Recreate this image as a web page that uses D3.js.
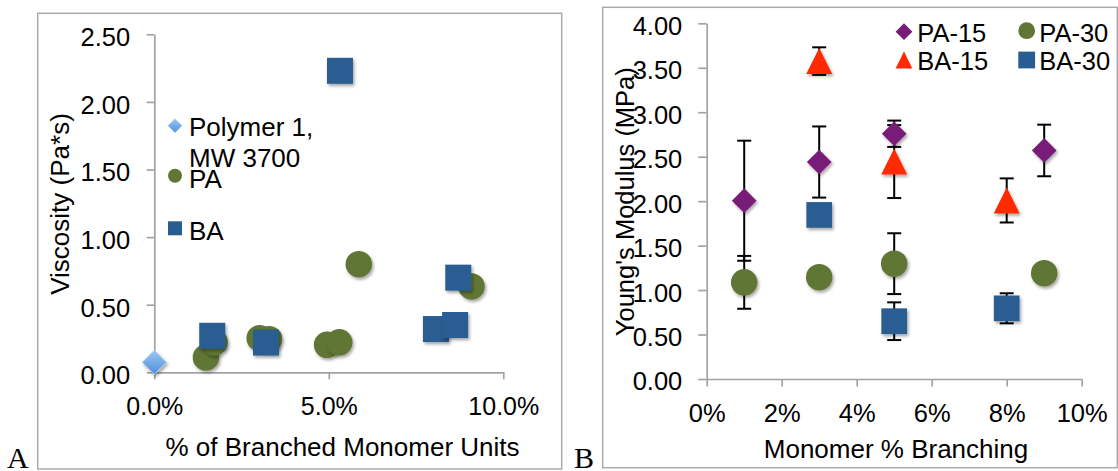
<!DOCTYPE html>
<html><head><meta charset="utf-8">
<script src="https://cdn.jsdelivr.net/npm/d3@7"></script>
<style>
html,body{margin:0;padding:0;background:#fff;}
svg{display:block;}
text{font-family:"Liberation Sans",Arial,Helvetica,sans-serif;fill:#000;}
</style></head><body><svg id="c" width="1118" height="471"></svg>
<script>
// ---------- Panel A data ----------
const aXTicks = [0, 5, 10];
const aXTickLabels = ["0.0%", "5.0%", "10.0%"];
const aYTicks = [0, 0.5, 1.0, 1.5, 2.0, 2.5];
const aYTickLabels = ["0.00", "0.50", "1.00", "1.50", "2.00", "2.50"];
const polymer1X = [0.0];
const polymer1Y = [0.074];
const paX = [1.48, 1.73, 3.02, 3.29, 4.95, 5.30, 5.86, 9.09];
const paY = [0.11, 0.222, 0.252, 0.245, 0.203, 0.222, 0.80, 0.635];
const baX = [1.66, 3.20, 5.32, 8.07, 8.62, 8.71];
const baY = [0.27, 0.22, 2.23, 0.32, 0.35, 0.70];
const aSeriesNames = ["Polymer 1,\nMW 3700", "PA", "BA"];

// ---------- Panel B data ----------
const bXTicks = [0, 2, 4, 6, 8, 10];
const bXTickLabels = ["0%", "2%", "4%", "6%", "8%", "10%"];
const bYTicks = [0, 0.5, 1.0, 1.5, 2.0, 2.5, 3.0, 3.5, 4.0];
const bYTickLabels = ["0.00", "0.50", "1.00", "1.50", "2.00", "2.50", "3.00", "3.50", "4.00"];
const pa15X = [1, 3, 5, 9];
const pa15Y = [2.005, 2.44, 2.758, 2.57];
const pa15Err = [0.675, 0.40, 0.148, 0.29];
const pa30X = [1, 3, 5, 9];
const pa30Y = [1.087, 1.145, 1.297, 1.19];
const pa30Err = [0.297, 0, 0.342, 0];
const ba15X = [3, 5, 8];
const ba15Y = [3.575, 2.445, 2.008];
const ba15Err = [0.155, 0.41, 0.248];
const ba30X = [3, 5, 8];
const ba30Y = [1.845, 0.65, 0.795];
const ba30Err = [0, 0.212, 0.169];
const bSeriesNames = ["PA-15", "PA-30", "BA-15", "BA-30"];

// ---------- styles ----------
const C = {
  blueLight: "#6aa6e4", green: "#617634", blue: "#295d91",
  purple: "#781c78", red: "#ff2a00", axis: "#a3a3a3", border: "#aaaaaa"
};

const svg = d3.select("#c");
const defs = svg.append("defs");
const f = defs.append("filter").attr("id", "sh").attr("x", "-50%").attr("y", "-50%").attr("width", "200%").attr("height", "200%");
f.append("feDropShadow").attr("dx", 1.5).attr("dy", 2.2).attr("stdDeviation", 1.6).attr("flood-color", "#000").attr("flood-opacity", 0.35);
const gr = defs.append("linearGradient").attr("id", "dg").attr("x1", 0).attr("y1", 0).attr("x2", 0).attr("y2", 1);
gr.append("stop").attr("offset", "0%").attr("stop-color", "#9cc8f4");
gr.append("stop").attr("offset", "100%").attr("stop-color", "#4f8fd8");

svg.append("rect").attr("width", 1118).attr("height", 471).attr("fill", "#fff");

function shapePath(type, s) {
  const h = s / 2;
  if (type === "diamond") return `M0,${-h}L${h},0L0,${h}L${-h},0Z`;
  if (type === "square") return `M${-h},${-h}H${h}V${h}H${-h}Z`;
  if (type === "triangle") return `M0,${-h}L${h},${h}L${-h},${h}Z`;
  return d3.symbol(d3.symbolCircle, Math.PI * h * h)();
}

function drawSeries(g, xs, ys, x, y, type, size, fill, stroke) {
  g.append("g").selectAll("path").data(xs.map((d, i) => [d, ys[i]])).join("path")
    .attr("d", shapePath(type, size))
    .attr("transform", d => `translate(${x(d[0])},${y(d[1])})`)
    .attr("fill", fill)
    .attr("stroke", stroke || "none")
    .attr("stroke-width", stroke ? 1 : 0)
    .attr("filter", "url(#sh)");
}

function drawErr(g, xs, ys, es, x, y) {
  const data = xs.map((d, i) => ({ x: d, y: ys[i], e: es[i] })).filter(d => d.e > 0);
  const eg = g.append("g").attr("stroke", "#000").attr("stroke-width", 2);
  data.forEach(d => {
    const cx = x(d.x), y1 = y(d.y + d.e), y2 = y(d.y - d.e);
    eg.append("line").attr("x1", cx).attr("x2", cx).attr("y1", y1).attr("y2", y2);
    eg.append("line").attr("x1", cx - 7).attr("x2", cx + 7).attr("y1", y1).attr("y2", y1);
    eg.append("line").attr("x1", cx - 7).attr("x2", cx + 7).attr("y1", y2).attr("y2", y2);
  });
}

function styleAxis(g, fs) {
  g.select(".domain").attr("stroke", C.axis).attr("stroke-width", 1.7);
  g.selectAll(".tick line").attr("stroke", C.axis).attr("stroke-width", 1.7);
  g.selectAll("text").attr("font-size", fs).attr("fill", "#000")
    .attr("font-family", '"Liberation Sans",Arial,Helvetica,sans-serif');
}

// ---------- panel borders ----------
svg.append("rect").attr("x", 37.7).attr("y", 13.3).attr("width", 524).attr("height", 455.7)
  .attr("fill", "none").attr("stroke", C.border).attr("stroke-width", 1.5);
svg.append("rect").attr("x", 602.7).attr("y", 7.3).attr("width", 514.6).attr("height", 460.4)
  .attr("fill", "none").attr("stroke", C.border).attr("stroke-width", 1.5);

// panel letters
svg.append("text").attr("x", 7).attr("y", 467.5).attr("font-size", 30)
  .style("font-family", '"Liberation Serif","Times New Roman",serif').text("A");
svg.append("text").attr("x", 574).attr("y", 467.5).attr("font-size", 30)
  .style("font-family", '"Liberation Serif","Times New Roman",serif').text("B");

// ---------- Panel A ----------
const xA = d3.scaleLinear().domain([0, 10]).range([154.3, 503.3]);
const yA = d3.scaleLinear().domain([0, 2.5]).range([372.3, 34.3]);
const gA = svg.append("g");

const axAx = gA.append("g").attr("transform", `translate(0,${yA(0)})`)
  .call(d3.axisBottom(xA).tickValues(aXTicks).tickFormat((d, i) => aXTickLabels[i])
    .tickSize(7).tickSizeOuter(0).tickPadding(17.5));
styleAxis(axAx, 25);
const ayAx = gA.append("g").attr("transform", `translate(${xA(0)},0)`)
  .call(d3.axisLeft(yA).tickValues(aYTicks).tickFormat((d, i) => aYTickLabels[i])
    .tickSize(7.6).tickSizeOuter(0).tickPadding(16.5));
styleAxis(ayAx, 25.5);
ayAx.selectAll("text").attr("dy", "0.45em");

gA.append("text").attr("x", 342.5).attr("y", 455.7).attr("text-anchor", "middle")
  .attr("font-size", 26).text("% of Branched Monomer Units");
gA.append("text").attr("transform", "translate(69,204) rotate(-90)").attr("text-anchor", "middle")
  .attr("font-size", 26).text("Viscosity (Pa*s)");

drawSeries(gA, polymer1X, polymer1Y, xA, yA, "diamond", 24, "url(#dg)", "#a8cdf3");
drawSeries(gA, paX, paY, xA, yA, "circle", 26.5, C.green);
drawSeries(gA, baX, baY, xA, yA, "square", 26, C.blue);

// legend A
const legA = gA.append("g");
legA.append("path").attr("d", shapePath("diamond", 14)).attr("transform", "translate(175,125.7)")
  .attr("fill", "url(#dg)").attr("stroke", "#a8cdf3").attr("stroke-width", 0.8);
const l1 = aSeriesNames[0].split("\n");
legA.append("text").attr("x", 189).attr("y", 136).attr("font-size", 26).text(l1[0]);
legA.append("text").attr("x", 189).attr("y", 167.3).attr("font-size", 26).text(l1[1]);
legA.append("path").attr("d", shapePath("circle", 14)).attr("transform", "translate(175,175.7)").attr("fill", C.green);
legA.append("text").attr("x", 189).attr("y", 188.3).attr("font-size", 26).text(aSeriesNames[1]);
legA.append("path").attr("d", shapePath("square", 14)).attr("transform", "translate(175,228.3)").attr("fill", C.blue);
legA.append("text").attr("x", 189).attr("y", 240).attr("font-size", 26).text(aSeriesNames[2]);

// ---------- Panel B ----------
const xB = d3.scaleLinear().domain([0, 10]).range([706.7, 1081.7]);
const yB = d3.scaleLinear().domain([0, 4]).range([379, 23.3]);
const gB = svg.append("g");

const bxAx = gB.append("g").attr("transform", `translate(0,${yB(0)})`)
  .call(d3.axisBottom(xB).tickValues(bXTicks).tickFormat((d, i) => bXTickLabels[i])
    .tickSize(7.5).tickSizeOuter(0).tickPadding(17.5));
styleAxis(bxAx, 25.5);
const byAx = gB.append("g").attr("transform", `translate(${xB(0)},0)`)
  .call(d3.axisLeft(yB).tickValues(bYTicks).tickFormat((d, i) => bYTickLabels[i])
    .tickSize(8.4).tickSizeOuter(0).tickPadding(16));
styleAxis(byAx, 25.5);
byAx.selectAll("text").attr("dy", "0.43em");

gB.append("text").attr("x", 896).attr("y", 458.3).attr("text-anchor", "middle")
  .attr("font-size", 26).text("Monomer % Branching");
gB.append("text").attr("transform", "translate(634,201.7) rotate(-90)").attr("text-anchor", "middle")
  .attr("font-size", 25.5).text("Young's Modulus (MPa)");

drawErr(gB, pa15X, pa15Y, pa15Err, xB, yB);
drawErr(gB, pa30X, pa30Y, pa30Err, xB, yB);
drawErr(gB, ba15X, ba15Y, ba15Err, xB, yB);
drawErr(gB, ba30X, ba30Y, ba30Err, xB, yB);
drawSeries(gB, pa15X, pa15Y, xB, yB, "diamond", 24.7, C.purple);
drawSeries(gB, pa30X, pa30Y, xB, yB, "circle", 26.5, C.green);
drawSeries(gB, ba15X, ba15Y, xB, yB, "triangle", 26, C.red);
drawSeries(gB, ba30X, ba30Y, xB, yB, "square", 25.7, C.blue);

// legend B
const legB = [
  { t: "diamond", c: C.purple, x: 904, y: 31.7, tx: 917.3, ty: 41.7, name: bSeriesNames[0] },
  { t: "circle", c: C.green, x: 1026.7, y: 30.7, tx: 1039.3, ty: 41.7, name: bSeriesNames[1] },
  { t: "triangle", c: C.red, x: 904, y: 60, tx: 917.3, ty: 70, name: bSeriesNames[2] },
  { t: "square", c: C.blue, x: 1026.7, y: 60, tx: 1039.3, ty: 70, name: bSeriesNames[3] }
];
legB.forEach(d => {
  gB.append("path").attr("d", shapePath(d.t, 16.8)).attr("transform", `translate(${d.x},${d.y})`).attr("fill", d.c);
  gB.append("text").attr("x", d.tx).attr("y", d.ty).attr("font-size", 25.5).text(d.name);
});
</script></body></html>
